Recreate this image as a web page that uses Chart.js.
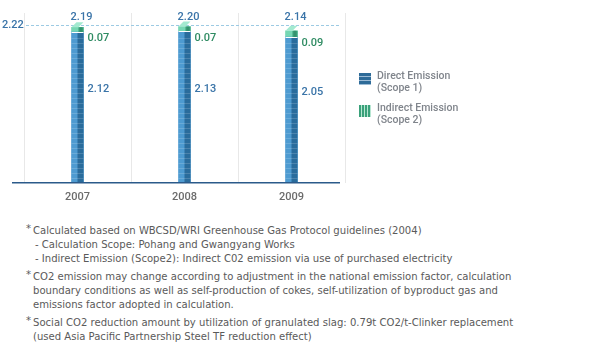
<!DOCTYPE html>
<html>
<head>
<meta charset="utf-8">
<script src="https://cdn.jsdelivr.net/npm/chart.js@4/dist/chart.umd.min.js"></script>
<style>
  body { margin: 0; background: #fff; }
  #wrap { position: relative; width: 596px; height: 352px; overflow: hidden; }
  #chart { position: absolute; left: 0; top: 0; }
  .leg { position: absolute; left: 359px; font: 500 10.5px Roboto, sans-serif; color: #80858c; line-height: 12px; }
  .leg i { position: absolute; left: 0; top: 3px; width: 12px; height: 12px; }
  .leg span { display: block; padding-left: 18px; }
  #leg1 { top: 70px; }
  #leg1 i { background: repeating-linear-gradient(to bottom, #2e6b98 0 3px, #9dbcd6 3px 4px); }
  #leg2 { top: 102px; }
  #leg2 i { background: repeating-linear-gradient(to right, #3aa17a 0 2px, #b7e6d2 2px 3px); }
  #notes { position: absolute; left: 0; top: 224px; width: 524px; font: 11.2px "DejaVu Sans Condensed", "Liberation Sans", sans-serif; color: #5a5a5a; line-height: 14px; }
  .note { position: relative; padding-left: 33px; margin-bottom: 4px; }
  .note:before { content: "*"; position: absolute; left: 26px; top: -2px; }
  .sub { padding-left: 2px; }
</style>
</head>
<body>
<div id="wrap">
  <canvas id="chart" width="596" height="215"></canvas>
  <div class="leg" id="leg1"><i></i><span>Direct Emission</span><span>(Scope 1)</span></div>
  <div class="leg" id="leg2"><i></i><span>Indirect Emission</span><span>(Scope 2)</span></div>
  <div id="notes">
    <div class="note">Calculated based on WBCSD/WRI Greenhouse Gas Protocol guidelines (2004)
      <div class="sub">- Calculation Scope: Pohang and Gwangyang Works</div>
      <div class="sub">- Indirect Emission (Scope2): Indirect C02 emission via use of purchased electricity</div>
    </div>
    <div class="note">CO2 emission may change according to adjustment in the national emission factor, calculation boundary conditions as well as self-production of cokes, self-utilization of byproduct gas and emissions factor adopted in calculation.</div>
    <div class="note">Social CO2 reduction amount by utilization of granulated slag: 0.79t CO2/t-Clinker replacement (used Asia Pacific Partnership Steel TF reduction effect)</div>
  </div>
</div>
<script>
const years = ['2007', '2008', '2009'];
const directEmission = [2.12, 2.13, 2.05];
const indirectEmission = [0.07, 0.07, 0.09];
const totalEmission = ['2.19', '2.20', '2.14'];
const refValue = 2.22;
const refLabel = '2.22';

const labelFont = '500 11px Roboto, sans-serif';

// extra drawing: dashed reference line, 3d look of the bars, value labels
const decor = {
  id: 'decor',
  beforeDatasetsDraw(chart) {
    const { ctx, chartArea, scales } = chart;
    const y = Math.round(scales.y.getPixelForValue(refValue)) + 0.5;
    ctx.save();
    ctx.strokeStyle = '#9ccae3';
    ctx.setLineDash([3, 2]);
    ctx.beginPath();
    ctx.moveTo(chartArea.left + 2, y);
    ctx.lineTo(chartArea.right - 5, y);
    ctx.stroke();
    ctx.restore();
  },
  afterDatasetsDraw(chart) {
    const { ctx, chartArea, scales } = chart;
    const m0 = chart.getDatasetMeta(0), m1 = chart.getDatasetMeta(1);
    ctx.save();

    m0.data.forEach((bar) => {
      const w = bar.width, l = bar.x - w / 2, top = bar.y, bottom = bar.base;
      ctx.fillStyle = '#2a6c9c';
      ctx.fillRect(bar.x, top, w / 2, bottom - top);
      ctx.fillStyle = 'rgba(255,255,255,0.16)';
      for (let y = bottom - 5; y > top + 2; y -= 5) ctx.fillRect(l, Math.round(y), w, 1);
    });

    m1.data.forEach((bar) => {
      const w = bar.width, l = bar.x - w / 2, top = bar.y, bottom = bar.base;
      ctx.fillStyle = '#3a9d77';
      ctx.fillRect(bar.x + 1, top, w / 2 - 1, bottom - top);
      ctx.fillStyle = '#2f8a66';
      ctx.fillRect(bar.x + 3, top, 1, bottom - top);
      // top face
      ctx.fillStyle = '#a3ead0';
      ctx.beginPath();
      ctx.moveTo(l, top);
      ctx.lineTo(l + 5, top - 5);
      ctx.lineTo(l + w, top - 5);
      ctx.lineTo(l + w - 5, top);
      ctx.closePath();
      ctx.fill();
      // seam between the two parts
      ctx.fillStyle = '#ffffff';
      ctx.fillRect(l, Math.round(bottom), w, 1);
    });

    // baseline
    ctx.strokeStyle = '#2b5a8a';
    ctx.lineWidth = 1.5;
    ctx.beginPath();
    ctx.moveTo(12, chartArea.bottom);
    ctx.lineTo(chartArea.right - 5, chartArea.bottom);
    ctx.stroke();

    ctx.font = labelFont;
    ctx.textBaseline = 'middle';

    // direct values
    ctx.fillStyle = '#3a74a8';
    ctx.textAlign = 'left';
    m0.data.forEach((bar, i) => {
      const y = bar.y + (bar.base - bar.y) * 0.38;
      ctx.fillText(directEmission[i].toFixed(2), bar.x + 10, y);
    });

    // indirect values
    ctx.fillStyle = '#2e8b62';
    m1.data.forEach((bar, i) => {
      ctx.fillText(indirectEmission[i].toFixed(2), bar.x + 10, (bar.y + bar.base) / 2 + 9);
    });

    // totals above the reference line
    const refY = scales.y.getPixelForValue(refValue);
    ctx.fillStyle = '#3a74a8';
    ctx.textAlign = 'center';
    m0.data.forEach((bar, i) => {
      ctx.fillText(totalEmission[i], bar.x + 4, refY - 8);
    });

    ctx.textAlign = 'left';
    ctx.fillText(refLabel, 2, refY + 0.5);
    ctx.restore();
  }
};

new Chart(document.getElementById('chart'), {
  type: 'bar',
  data: {
    labels: years,
    datasets: [
      { label: 'Direct Emission (Scope 1)', data: directEmission, backgroundColor: '#4e9bd1', barThickness: 12 },
      { label: 'Indirect Emission (Scope 2)', data: indirectEmission, backgroundColor: '#76d7b3', barThickness: 12 }
    ]
  },
  options: {
    responsive: false,
    animation: false,
    events: [],
    layout: { padding: { left: 24, right: 251, top: 13, bottom: 3 } },
    plugins: { legend: { display: false }, tooltip: { enabled: false } },
    scales: {
      x: {
        stacked: true,
        border: { display: false },
        grid: { color: '#e8e8e8', drawTicks: false, offset: true },
        ticks: { color: '#6b6b6b', padding: 8, font: { family: 'Roboto', size: 11, weight: '500' } }
      },
      y: { stacked: true, display: false, min: 0, max: 2.39 }
    }
  },
  plugins: [decor]
});
</script>
</body>
</html>
